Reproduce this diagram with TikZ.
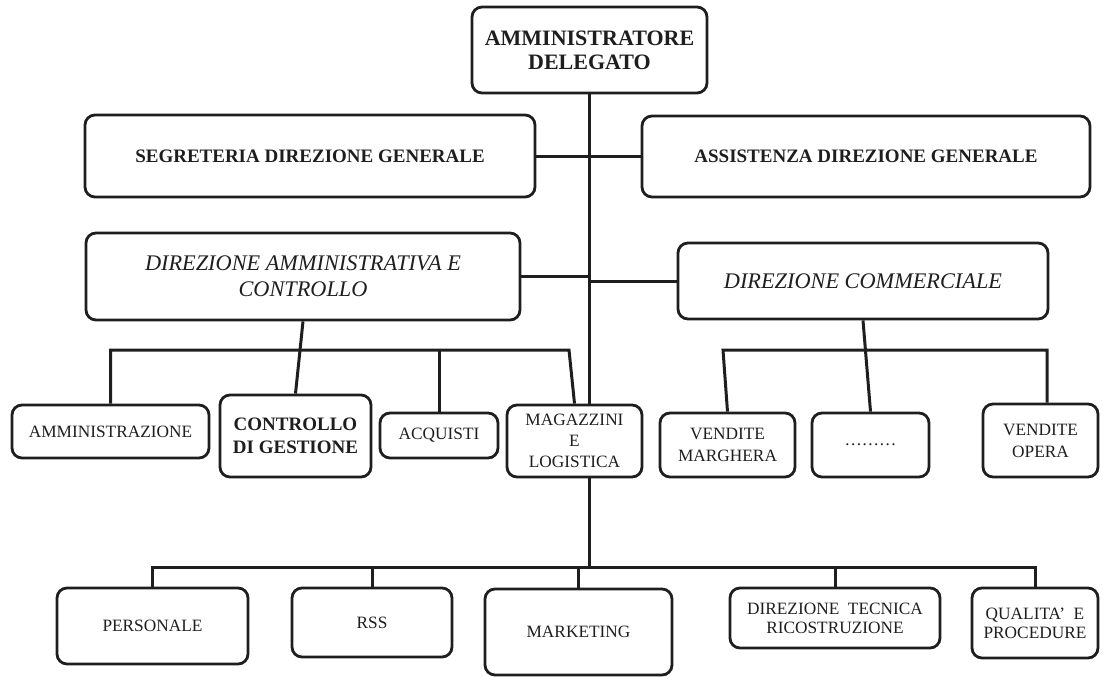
\documentclass[tikz,border=0pt]{standalone}
\usepackage{fontspec}
\setmainfont{Liberation Serif}
\definecolor{ink}{HTML}{1E1E1E}
\tikzset{
  box/.style={draw=ink, line width=2.8pt, rounded corners=10pt, inner sep=1pt,
    align=center, text=ink, anchor=center},
  link/.style={draw=ink, line width=3pt},
  fbig/.style={font=\fontsize{22}{24}\selectfont\bfseries},
  fmid/.style={font=\fontsize{19}{22}\selectfont\bfseries},
  fita/.style={font=\fontsize{22.3}{26}\selectfont\itshape},
  fnorm/.style={font=\fontsize{17.3}{22}\selectfont},
  ftight/.style={font=\fontsize{17.3}{19}\selectfont},
  fmag/.style={font=\fontsize{17.3}{21}\selectfont},
  fctl/.style={font=\fontsize{19}{23}\selectfont\bfseries},
}
\begin{document}
\begin{tikzpicture}[x=1pt,y=-1pt]
\useasboundingbox (0,0) rectangle (1103,677);
% top
\node[box,fbig,minimum width=235pt,minimum height=86pt] (AD) at (589.5,50) {AMMINISTRATORE\\DELEGATO};
\node[box,fmid,minimum width=450pt,minimum height=82pt] (SEG) at (310,156) {SEGRETERIA DIREZIONE GENERALE};
\node[box,fmid,minimum width=448pt,minimum height=81pt] (ASS) at (866,156.5) {ASSISTENZA DIREZIONE GENERALE};
\node[box,fita,minimum width=434pt,minimum height=87pt] (DAM) at (303,276.5) {DIREZIONE AMMINISTRATIVA E\\CONTROLLO};
\node[box,fita,minimum width=370pt,minimum height=76pt] (DCOM) at (863,281) {DIREZIONE COMMERCIALE};
% middle row
\node[box,fnorm,minimum width=197pt,minimum height=53pt] (AMMIN) at (110.5,431.5) {AMMINISTRAZIONE};
\node[box,fctl,minimum width=151pt,minimum height=82pt] (CONTR) at (295.5,436) {CONTROLLO\\DI GESTIONE};
\node[box,fnorm,minimum width=118pt,minimum height=45pt] (ACQ) at (439,435.5) {ACQUISTI};
\node[box,fmag,minimum width=135pt,minimum height=72pt] (MAG) at (574.5,441) {MAGAZZINI\\E\\LOGISTICA};
\node[box,fnorm,minimum width=135pt,minimum height=64pt] (VMAR) at (727.5,445) {VENDITE\\MARGHERA};
\node[box,fnorm,minimum width=117pt,minimum height=64pt] (DOTS) at (870.5,445) {\dots\dots\dots};
\node[box,fnorm,minimum width=115pt,minimum height=73pt] (VOP) at (1040.5,440.5) {VENDITE\\OPERA};
% bottom row
\node[box,fnorm,minimum width=191pt,minimum height=76pt] (PERS) at (152.5,626) {PERSONALE};
\node[box,fnorm,minimum width=160pt,minimum height=69pt] (RSS) at (372,622.5) {RSS};
\node[box,fnorm,minimum width=187pt,minimum height=86pt] (MKT) at (578.5,632) {MARKETING};
\node[box,ftight,minimum width=210pt,minimum height=60pt] (DTEC) at (835,618) {DIREZIONE\ \ TECNICA\\RICOSTRUZIONE};
\node[box,ftight,minimum width=126pt,minimum height=70pt] (QUAL) at (1035,623) {QUALITA'\ \ E\\PROCEDURE};
% coordinates
\coordinate (busA) at (569,350);
\coordinate (busC) at (723,350);
\coordinate (busD) at (1047,350);
\coordinate (b3) at (589.5,567);
% trunk
\draw[link] (AD.south) -- (AD.south |- MAG.north);
\draw[link] (AD.south |- MAG.south) -- (b3);
\draw[link] (SEG.east) -- (SEG.east -| AD.south);
\draw[link] (ASS.west) -- (ASS.west -| AD.south);
\draw[link] (DAM.east) -- (DAM.east -| AD.south);
\draw[link] (DCOM.west) -- (DCOM.west -| AD.south);
% left group
\draw[link] (DAM.south) -- (CONTR.north);
\draw[link] (AMMIN.north) |- (busA) -- (MAG.north);
\draw[link] (ACQ.north |- busA) -- (ACQ.north);
% right group
\draw[link] (DCOM.south) -- (DOTS.north);
\draw[link] (VMAR.north) -- (busC) -- (busD) -- (busD |- VOP.north);
% bottom group
\draw[link] (PERS.north) |- (b3) -| (QUAL.north);
\draw[link] (RSS.north |- b3) -- (RSS.north);
\draw[link] (MKT.north |- b3) -- (MKT.north);
\draw[link] (DTEC.north |- b3) -- (DTEC.north);
\end{tikzpicture}
\end{document}
